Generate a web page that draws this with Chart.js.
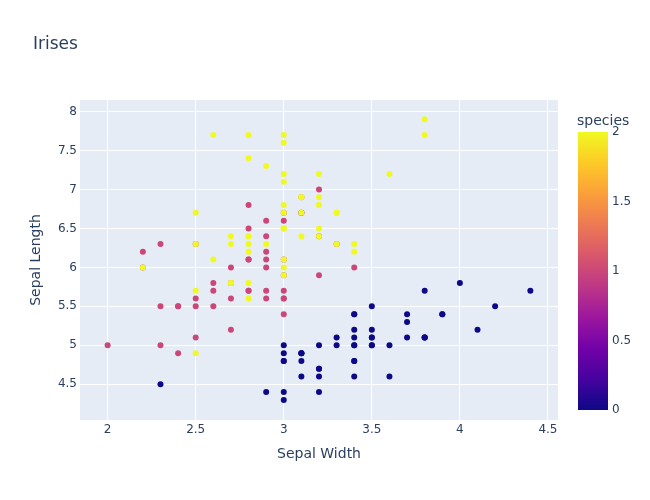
<!DOCTYPE html>
<html>
<head>
<meta charset="utf-8">
<title>Irises</title>
<script src="https://cdn.jsdelivr.net/npm/chart.js@4.4.1/dist/chart.umd.min.js"></script>
<style>
  html, body { margin: 0; padding: 0; background: #fff; }
  #wrap { width: 650px; height: 500px; position: relative; }
</style>
</head>
<body>
<div id="wrap"><canvas id="chart" width="650" height="500"></canvas></div>
<script>
// iris data, in dataset order (later points are drawn on top)
var sepalWidth = [
  3.5,3.0,3.2,3.1,3.6,3.9,3.4,3.4,2.9,3.1,3.7,3.4,3.0,3.0,4.0,4.4,3.9,3.5,3.8,3.8,
  3.4,3.7,3.6,3.3,3.4,3.0,3.4,3.5,3.4,3.2,3.1,3.4,4.1,4.2,3.1,3.2,3.5,3.1,3.0,3.4,
  3.5,2.3,3.2,3.5,3.8,3.0,3.8,3.2,3.7,3.3,
  3.2,3.2,3.1,2.3,2.8,2.8,3.3,2.4,2.9,2.7,2.0,3.0,2.2,2.9,2.9,3.1,3.0,2.7,2.2,2.5,
  3.2,2.8,2.5,2.8,2.9,3.0,2.8,3.0,2.9,2.6,2.4,2.4,2.7,2.7,3.0,3.4,3.1,2.3,3.0,2.5,
  2.6,3.0,2.6,2.3,2.7,3.0,2.9,2.9,2.5,2.8,
  3.3,2.7,3.0,2.9,3.0,3.0,2.5,2.9,2.5,3.6,3.2,2.7,3.0,2.5,2.8,3.2,3.0,3.8,2.6,2.2,
  3.2,2.8,2.8,2.7,3.3,3.2,2.8,3.0,2.8,3.0,2.8,3.8,2.8,2.8,2.6,3.0,3.4,3.1,3.0,3.1,
  3.1,3.1,2.7,3.2,3.3,3.0,2.5,3.0,3.4,3.0
];
var sepalLength = [
  5.1,4.9,4.7,4.6,5.0,5.4,4.6,5.0,4.4,4.9,5.4,4.8,4.8,4.3,5.8,5.7,5.4,5.1,5.7,5.1,
  5.4,5.1,4.6,5.1,4.8,5.0,5.0,5.2,5.2,4.7,4.8,5.4,5.2,5.5,4.9,5.0,5.5,4.9,4.4,5.1,
  5.0,4.5,4.4,5.0,5.1,4.8,5.1,4.6,5.3,5.0,
  7.0,6.4,6.9,5.5,6.5,5.7,6.3,4.9,6.6,5.2,5.0,5.9,6.0,6.1,5.6,6.7,5.6,5.8,6.2,5.6,
  5.9,6.1,6.3,6.1,6.4,6.6,6.8,6.7,6.0,5.7,5.5,5.5,5.8,6.0,5.4,6.0,6.7,6.3,5.6,5.5,
  5.5,6.1,5.8,5.0,5.6,5.7,5.7,6.2,5.1,5.7,
  6.3,5.8,7.1,6.3,6.5,7.6,4.9,7.3,6.7,7.2,6.5,6.4,6.8,5.7,5.8,6.4,6.5,7.7,7.7,6.0,
  6.9,5.6,7.7,6.3,6.7,7.2,6.2,6.1,6.4,7.2,7.4,7.9,6.4,6.3,6.1,7.7,6.3,6.4,6.0,6.9,
  6.7,6.9,5.8,6.8,6.7,6.7,6.3,6.5,6.2,5.9
];
var species = [];
for (var s = 0; s < 3; s++) for (var k = 0; k < 50; k++) species.push(s);

var xTicks = [2, 2.5, 3, 3.5, 4, 4.5];
var yTicks = [4.5, 5, 5.5, 6, 6.5, 7, 7.5, 8];
var colorTicks = [0, 0.5, 1, 1.5, 2];

var TEXT = '#2a3f5f';
var FONT = '"DejaVu Sans", verdana, arial, sans-serif';

// plotly "Plasma" colour scale
var plasma = ['#0d0887','#46039f','#7201a8','#9c179e','#bd3786','#d8576b','#ed7953','#fb9f3a','#fdca26','#f0f921'];

function hexRgb(h) {
  return [parseInt(h.substr(1,2),16), parseInt(h.substr(3,2),16), parseInt(h.substr(5,2),16)];
}
function plasmaAt(t) {
  t = Math.max(0, Math.min(1, t));
  var pos = t * (plasma.length - 1);
  var i = Math.min(Math.floor(pos), plasma.length - 2);
  var f = pos - i;
  var a = hexRgb(plasma[i]), b = hexRgb(plasma[i+1]);
  return 'rgb(' + Math.round(a[0]+(b[0]-a[0])*f) + ',' + Math.round(a[1]+(b[1]-a[1])*f) + ',' + Math.round(a[2]+(b[2]-a[2])*f) + ')';
}

var points = sepalWidth.map(function(x, i){ return { x: x, y: sepalLength[i] }; });

// plot background
var bgPlugin = {
  id: 'plotBg',
  beforeDraw: function(chart) {
    var c = chart.ctx, a = chart.chartArea;
    c.save();
    c.fillStyle = '#E5ECF6';
    c.fillRect(a.left, a.top, a.right - a.left, a.bottom - a.top);
    c.restore();
  }
};

// title and colour bar
var overlayPlugin = {
  id: 'overlay',
  afterDraw: function(chart) {
    var c = chart.ctx;
    c.save();
    c.fillStyle = TEXT;
    c.font = '17px ' + FONT;
    c.textBaseline = 'alphabetic';
    c.textAlign = 'left';
    c.fillText('Irises', 33, 49);

    var left = 578, right = 608, top = 132, bottom = 410;
    var g = c.createLinearGradient(0, bottom, 0, top);
    for (var i = 0; i < plasma.length; i++) g.addColorStop(i / (plasma.length - 1), plasma[i]);
    c.fillStyle = g;
    c.fillRect(left, top, right - left, bottom - top);

    c.fillStyle = TEXT;
    c.font = '14px ' + FONT;
    c.fillText('species', 577, 125);

    c.font = '12px ' + FONT;
    c.textBaseline = 'middle';
    colorTicks.forEach(function(v){
      var y = bottom - (v / 2) * (bottom - top);
      c.fillText(String(v), 612, y);
    });
    c.restore();
  }
};

function plainLabel(v) { return String(v); }

new Chart(document.getElementById('chart'), {
  type: 'scatter',
  data: {
    datasets: [{
      data: points,
      pointRadius: 3,
      pointHoverRadius: 3,
      pointBorderWidth: 0,
      backgroundColor: function(ctx){ return plasmaAt(species[ctx.dataIndex] / 2); },
      borderColor: 'rgba(0,0,0,0)'
    }]
  },
  options: {
    responsive: false,
    animation: false,
    events: [],
    layout: { padding: { top: 100, right: 92, left: 0, bottom: 0 } },
    plugins: { legend: { display: false }, tooltip: { enabled: false } },
    scales: {
      x: {
        type: 'linear',
        min: 1.843, max: 4.557,
        afterFit: function(scale){ scale.height = 80; },
        afterBuildTicks: function(scale){ scale.ticks = xTicks.map(function(v){ return { value: v }; }); },
        grid: { color: '#ffffff', lineWidth: 1, drawTicks: false },
        border: { display: false },
        ticks: { color: TEXT, font: { family: FONT, size: 12 }, padding: 3, maxRotation: 0, callback: plainLabel },
        title: { display: true, text: 'Sepal Width', color: TEXT, font: { family: FONT, size: 14 }, padding: { top: 0, bottom: 37 } }
      },
      y: {
        type: 'linear',
        min: 4.042, max: 8.148,
        afterFit: function(scale){ scale.width = 80; },
        afterBuildTicks: function(scale){ scale.ticks = yTicks.map(function(v){ return { value: v }; }); },
        grid: { color: '#ffffff', lineWidth: 1, drawTicks: false },
        border: { display: false },
        ticks: { color: TEXT, font: { family: FONT, size: 12 }, padding: 3, callback: plainLabel },
        title: { display: true, text: 'Sepal Length', color: TEXT, font: { family: FONT, size: 14 }, padding: { top: 28, bottom: 0 } }
      }
    }
  },
  plugins: [bgPlugin, overlayPlugin]
});
</script>
</body>
</html>
